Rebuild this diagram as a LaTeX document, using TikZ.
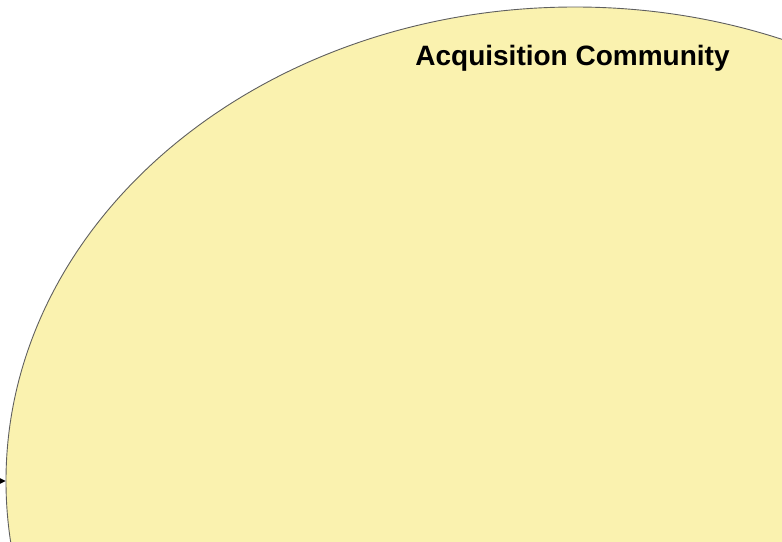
\documentclass[tikz,border=0pt]{standalone}
\usepackage{fontspec}
\setmainfont{Liberation Sans}
\usetikzlibrary{shapes.geometric,arrows.meta}
\definecolor{commfill}{RGB}{250,242,175}
\definecolor{commline}{RGB}{95,95,95}
\tikzset{
  community/.style={ellipse, draw=commline, fill=commfill, line width=0.9pt,
    minimum width=1138pt, minimum height=948pt, inner sep=0pt},
  titletext/.style={font=\bfseries\fontsize{28}{32}\selectfont, text=black},
  flow/.style={draw=black, line width=1pt, -{Stealth[length=8pt,width=8pt]}}
}
\begin{document}
\begin{tikzpicture}[x=1pt,y=1pt]
\useasboundingbox (0,0) rectangle (782,-541);
\node[community] (comm) at (575,-481) {};
\node[titletext] (title) at (572.5,-58.5) {Acquisition Community};
\coordinate (src) at (-40,-481);
\draw[flow] (src) -- (comm.west);
\end{tikzpicture}
\end{document}
